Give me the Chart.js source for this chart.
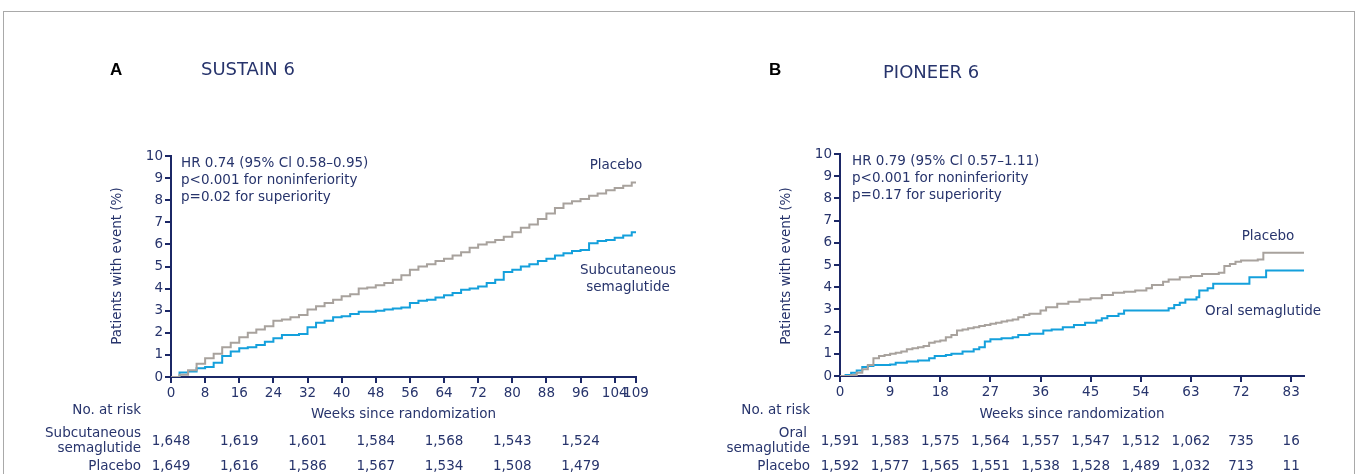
<!DOCTYPE html>
<html>
<head>
<meta charset="utf-8">
<script src="https://cdn.jsdelivr.net/npm/chart.js@4/dist/chart.umd.min.js"></script>
<style>
  html, body { margin: 0; padding: 0; background: #fff; }
  #page { position: relative; width: 1357px; height: 474px; overflow: hidden; }
  #frame { position: absolute; left: 3px; top: 11px; width: 1350px; height: 480px; border: 1px solid #a9a9a9; }
  #boxA { position: absolute; left: 0; top: 0; width: 680px; height: 474px; }
  #boxB { position: absolute; left: 680px; top: 0; width: 677px; height: 474px; }
</style>
</head>
<body>
<div id="page">
  <div id="frame"></div>
  <div id="boxA"><canvas id="chartA"></canvas></div>
  <div id="boxB"><canvas id="chartB"></canvas></div>
</div>
<script>
/* ─── Data ─── */

// A: SUSTAIN 6 (weeks, % with event)
var weeksA = [0, 2, 4, 6, 8, 10, 12, 14, 16, 18, 20, 22, 24, 26, 28, 30, 32, 34, 36, 38, 40, 42, 44, 46, 48, 50, 52, 54,
              56, 58, 60, 62, 64, 66, 68, 70, 72, 74, 76, 78, 80, 82, 84, 86, 88, 90, 92, 94, 96, 98, 100, 102, 104, 106, 108, 109];
var placeboA = [0, 0.1, 0.3, 0.6, 0.85, 1.05, 1.35, 1.55, 1.8, 2.0, 2.15, 2.3, 2.55, 2.6, 2.7, 2.8, 3.05, 3.2, 3.35, 3.5, 3.65, 3.75, 4.0, 4.05, 4.15, 4.25, 4.4, 4.6,
                4.85, 5.0, 5.1, 5.25, 5.35, 5.5, 5.65, 5.85, 6.0, 6.1, 6.2, 6.35, 6.55, 6.75, 6.9, 7.15, 7.4, 7.65, 7.85, 7.95, 8.05, 8.2, 8.3, 8.45, 8.55, 8.65, 8.8, 8.85];
var semaA = [0, 0.2, 0.25, 0.4, 0.45, 0.65, 0.95, 1.15, 1.3, 1.35, 1.45, 1.6, 1.75, 1.9, 1.9, 1.95, 2.25, 2.45, 2.55, 2.7, 2.75, 2.85, 2.95, 2.95, 3.0, 3.05, 3.1, 3.15,
             3.35, 3.45, 3.5, 3.6, 3.7, 3.8, 3.95, 4.0, 4.1, 4.25, 4.4, 4.75, 4.85, 5.0, 5.1, 5.25, 5.35, 5.5, 5.6, 5.7, 5.75, 6.05, 6.15, 6.2, 6.3, 6.4, 6.55, 6.6];
var tickWeeksA = [0, 8, 16, 24, 32, 40, 48, 56, 64, 72, 80, 88, 96, 104, 109];
var tickLabelsA = ['0', '8', '16', '24', '32', '40', '48', '56', '64', '72', '80', '88', '96', '104', '109'];
var riskWeeksA = [0, 16, 32, 48, 64, 80, 96];
var riskSemaA = ['1,648', '1,619', '1,601', '1,584', '1,568', '1,543', '1,524'];
var riskPlaceboA = ['1,649', '1,616', '1,586', '1,567', '1,534', '1,508', '1,479'];

// B: PIONEER 6
var weeksPlaceboB = [0, 2, 3, 4, 5, 6, 7, 8, 9, 10, 11, 12, 13, 14, 15, 16, 17, 18, 19, 20, 21, 22, 23, 24, 25, 26, 27, 28, 29, 30, 31, 32, 33, 34,
                     36, 37, 39, 41, 43, 45, 47, 49, 51, 53, 55, 56, 58, 59, 61, 63, 65, 68, 69, 70, 71, 72, 75, 76, 83.3];
var placeboB = [0, 0.05, 0.15, 0.3, 0.5, 0.8, 0.9, 0.95, 1.0, 1.05, 1.1, 1.2, 1.25, 1.3, 1.35, 1.5, 1.55, 1.6, 1.75, 1.85, 2.05, 2.1, 2.15, 2.2, 2.25, 2.3, 2.35, 2.4, 2.45, 2.5, 2.55, 2.65, 2.75, 2.8,
                2.95, 3.1, 3.25, 3.35, 3.45, 3.5, 3.65, 3.75, 3.8, 3.85, 3.95, 4.1, 4.25, 4.35, 4.45, 4.5, 4.6, 4.65, 4.95, 5.05, 5.15, 5.2, 5.25, 5.55, 5.55];
var weeksSemaB = [0, 1, 2, 3, 4, 5, 6, 9, 10, 12, 14, 16, 17, 19, 20, 22, 24, 25, 26, 27, 29, 31, 32, 34, 36.5, 38, 40, 42, 44, 46, 47, 48, 50, 51,
                  59, 60, 61, 62, 64, 64.5, 66, 67, 73.5, 76.5, 83.3];
var semaB = [0, 0.05, 0.15, 0.25, 0.4, 0.45, 0.5, 0.52, 0.6, 0.65, 0.7, 0.8, 0.9, 0.95, 1.0, 1.1, 1.2, 1.3, 1.55, 1.65, 1.7, 1.75, 1.85, 1.9, 2.05, 2.1, 2.2, 2.3, 2.4, 2.5, 2.6, 2.7, 2.8, 2.95,
             3.05, 3.2, 3.3, 3.45, 3.55, 3.85, 3.95, 4.15, 4.45, 4.75, 4.75];
var tickWeeksB = [0, 9, 18, 27, 36, 45, 54, 63, 72, 81];
var tickLabelsB = ['0', '9', '18', '27', '36', '45', '54', '63', '72', '83'];
var riskSemaB = ['1,591', '1,583', '1,575', '1,564', '1,557', '1,547', '1,512', '1,062', '735', '16'];
var riskPlaceboB = ['1,592', '1,577', '1,565', '1,551', '1,538', '1,528', '1,489', '1,032', '713', '11'];

/* ─── Shared styling ─── */
var NAVY = '#1b2766';
var TEXT = '#27346c';
var GRAY = '#a8a29d';
var BLUE = '#14a0dc';
var FONT = '"DejaVu Sans", Verdana, sans-serif';

function pts(xs, ys) {
    return xs.map(function (x, i) { return { x: x, y: ys[i] }; });
}

function txt(ctx, s, x, y, align, font, color) {
    ctx.font = font || ('13.5px ' + FONT);
    ctx.fillStyle = color || TEXT;
    ctx.textAlign = align || 'left';
    ctx.textBaseline = 'middle';
    ctx.fillText(s, x, y);
}

// Draws letter, title, statistics, curve labels and the at-risk table.
function panelPlugin(cfg) {
    return {
        id: 'panel' + cfg.letter,
        afterDraw: function (chart) {
            var ctx = chart.ctx;
            var xs = chart.scales.x;
            var ox = cfg.offset;
            ctx.save();
            txt(ctx, cfg.letter, cfg.letterX - ox, 70, 'left', 'bold 17px "Liberation Sans", Arial, sans-serif', '#000');
            txt(ctx, cfg.title, cfg.titleX - ox, cfg.titleY, 'left', '18px ' + FONT);
            cfg.stats.forEach(function (s, i) {
                txt(ctx, s, cfg.statsX - ox, cfg.statsY + i * 17, 'left');
            });
            cfg.labels.forEach(function (l) {
                txt(ctx, l[0], l[1] - ox, l[2], l[3]);
            });

            // y axis title
            ctx.save();
            ctx.translate(cfg.yTitleX - ox, 266);
            ctx.rotate(-Math.PI / 2);
            txt(ctx, 'Patients with event (%)', 0, 0, 'center', '13.5px ' + FONT);
            ctx.restore();

            // x axis title + at-risk table
            var mid = (chart.chartArea.left + chart.chartArea.right) / 2;
            txt(ctx, 'Weeks since randomization', mid, 414, 'center');
            txt(ctx, 'No. at risk', cfg.rowX - ox, 410, 'right');
            cfg.rowNames.forEach(function (r) {
                txt(ctx, r[0], cfg.rowX - ox + (r[2] || 0), r[1], 'right');
            });
            cfg.riskWeeks.forEach(function (w, i) {
                var px = xs.getPixelForValue(w);
                txt(ctx, cfg.riskSema[i], px, 441, 'center');
                txt(ctx, cfg.riskPlacebo[i], px, 466, 'center');
            });
            ctx.restore();
        }
    };
}

function makeChart(id, opt) {
    return new Chart(document.getElementById(id), {
        type: 'line',
        data: {
            datasets: [
                { label: 'Placebo', data: opt.placebo, borderColor: GRAY, borderWidth: 2, stepped: true, pointRadius: 0, fill: false },
                { label: opt.semaName, data: opt.sema, borderColor: BLUE, borderWidth: 2, stepped: true, pointRadius: 0, fill: false }
            ]
        },
        options: {
            responsive: true,
            maintainAspectRatio: false,
            animation: false,
            events: [],
            layout: { padding: opt.padding },
            plugins: { legend: { display: false }, tooltip: { enabled: false } },
            scales: {
                x: {
                    type: 'linear',
                    min: 0,
                    max: opt.xMax,
                    afterBuildTicks: function (scale) {
                        scale.ticks = opt.tickWeeks.map(function (v) { return { value: v }; });
                    },
                    afterFit: function (scale) { scale.height = 30; },
                    border: { display: true, color: NAVY, width: 2 },
                    grid: { drawOnChartArea: false, drawTicks: true, tickLength: 6, color: NAVY, lineWidth: 2 },
                    ticks: {
                        autoSkip: false,
                        maxRotation: 0,
                        padding: 2,
                        color: TEXT,
                        font: { family: FONT, size: 13.5 },
                        callback: function (v, i) { return opt.tickLabels[i]; }
                    }
                },
                y: {
                    min: 0,
                    max: 10,
                    afterFit: function (scale) { scale.width = 60; },
                    border: { display: true, color: NAVY, width: 2 },
                    grid: { drawOnChartArea: false, drawTicks: true, tickLength: 6, color: NAVY, lineWidth: 2 },
                    ticks: { stepSize: 1, padding: 2, color: TEXT, font: { family: FONT, size: 13.5 } }
                }
            }
        },
        plugins: [panelPlugin(opt.panel)]
    });
}

makeChart('chartA', {
    placebo: pts(weeksA, placeboA),
    sema: pts(weeksA, semaA),
    semaName: 'Subcutaneous semaglutide',
    xMax: 109,
    tickWeeks: tickWeeksA,
    tickLabels: tickLabelsA,
    padding: { left: 111, right: 44, top: 156, bottom: 67 },
    panel: {
        offset: 0, letter: 'A', letterX: 110, title: 'SUSTAIN 6', titleX: 201, titleY: 70,
        stats: ['HR 0.74 (95% Cl 0.58\u20130.95)', 'p<0.001 for noninferiority', 'p=0.02 for superiority'],
        statsX: 181, statsY: 163,
        labels: [['Placebo', 616, 165, 'center'], ['Subcutaneous', 628, 270, 'center'], ['semaglutide', 628, 287, 'center']],
        yTitleX: 117, rowX: 141,
        rowNames: [['Subcutaneous', 433], ['semaglutide', 448], ['Placebo', 466]],
        riskWeeks: riskWeeksA, riskSema: riskSemaA, riskPlacebo: riskPlaceboA
    }
});

makeChart('chartB', {
    placebo: pts(weeksPlaceboB, placeboB),
    sema: pts(weeksSemaB, semaB),
    semaName: 'Oral semaglutide',
    xMax: 83.3,
    tickWeeks: tickWeeksB,
    tickLabels: tickLabelsB,
    padding: { left: 100, right: 53, top: 154, bottom: 68 },
    panel: {
        offset: 680, letter: 'B', letterX: 769, title: 'PIONEER 6', titleX: 883, titleY: 73,
        stats: ['HR 0.79 (95% Cl 0.57\u20131.11)', 'p<0.001 for noninferiority', 'p=0.17 for superiority'],
        statsX: 852, statsY: 161,
        labels: [['Placebo', 1268, 236, 'center'], ['Oral semaglutide', 1205, 311, 'left']],
        yTitleX: 786, rowX: 810,
        rowNames: [['Oral', 433, -3], ['semaglutide', 448], ['Placebo', 466]],
        riskWeeks: tickWeeksB, riskSema: riskSemaB, riskPlacebo: riskPlaceboB
    }
});
</script>
</body>
</html>
